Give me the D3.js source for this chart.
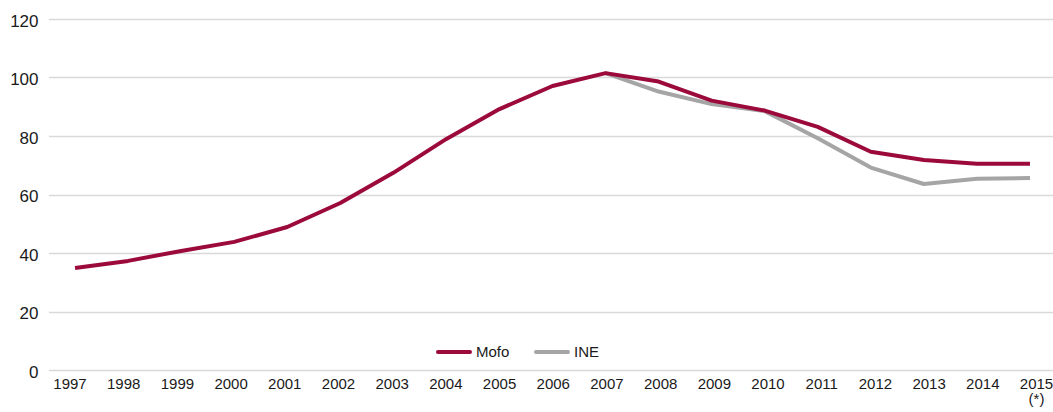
<!DOCTYPE html>
<html>
<head>
<meta charset="utf-8">
<script src="https://cdn.jsdelivr.net/npm/d3@7"></script>
<style>
  html, body { margin: 0; padding: 0; background: #fff; }
  svg { display: block; font-family: "Liberation Sans", Arial, sans-serif; }
</style>
</head>
<body>
<svg id="chart" width="1053" height="412"></svg>
<script>
// Years on the horizontal axis
const years = ["1997","1998","1999","2000","2001","2002","2003","2004","2005","2006",
               "2007","2008","2009","2010","2011","2012","2013","2014","2015"];
// Footnote shown under the last year
const yearNotes = { "2015": "(*)" };

// Mofo series (full period)
const mofoValues = [34.9, 37.3, 40.7, 43.8, 48.9, 57.1, 67.4, 79.0, 89.2, 97.1,
                    101.5, 98.6, 92.1, 88.7, 83.1, 74.6, 71.8, 70.5, 70.5];
// INE series (from 2007 onwards)
const ineValues = [null, null, null, null, null, null, null, null, null, null,
                   101.5, 95.2, 90.9, 88.5, 79.2, 69.2, 63.6, 65.4, 65.6];

const yTicks = [0, 20, 40, 60, 80, 100, 120];

const seriesNames = ["Mofo", "INE"];
const seriesColors = ["#9b0a3a", "#a5a5a5"];

const svg = d3.select("#chart");
const W = 1053;
const gridLeft = 49, gridRight = 1053;

// Category positions for the data points
const x = d3.scaleBand()
  .domain(years)
  .range([48.5, 1056.5]);
// Category positions for the year labels
const xLabel = d3.scalePoint()
  .domain(years)
  .range([69.5, 1036]);

const y = d3.scaleLinear()
  .domain([0, 120])
  .range([370, 19]);

// Gridlines
svg.append("g")
  .selectAll("line")
  .data(yTicks)
  .join("line")
  .attr("x1", gridLeft)
  .attr("x2", gridRight)
  .attr("y1", d => Math.round(y(d)) + 0.5)
  .attr("y2", d => Math.round(y(d)) + 0.5)
  .attr("stroke", "#d9d9d9")
  .attr("stroke-width", 1.3);

// Y axis labels
const yAxis = d3.axisLeft(y).tickValues(yTicks).tickSize(0).tickPadding(0);
const yg = svg.append("g")
  .attr("transform", "translate(38.5,2)")
  .call(yAxis);
yg.select(".domain").remove();
yg.selectAll("text")
  .attr("font-size", 17)
  .attr("fill", "#1a1a1a")
  .attr("font-family", "Liberation Sans, Arial, sans-serif");

// X axis labels
const xAxis = d3.axisBottom(xLabel).tickSize(0).tickPadding(0);
const xg = svg.append("g")
  .attr("transform", `translate(0,${y(0) + 8})`)
  .call(xAxis);
xg.select(".domain").remove();
xg.selectAll("text")
  .attr("font-size", 15)
  .attr("fill", "#1a1a1a")
  .attr("font-family", "Liberation Sans, Arial, sans-serif")
  .attr("dy", "0.71em");
xg.selectAll(".tick")
  .filter(d => yearNotes[d])
  .append("text")
  .attr("y", 15)
  .attr("dy", "0.71em")
  .attr("fill", "#1a1a1a")
  .attr("font-size", 15)
  .attr("font-family", "Liberation Sans, Arial, sans-serif")
  .text(d => yearNotes[d]);

// Lines
const cx = d => x(d) + x.bandwidth() / 2;
const line = d3.line()
  .defined(d => d.v != null)
  .x(d => cx(d.year))
  .y(d => y(d.v));

const seriesData = [mofoValues, ineValues].map(vals => years.map((yr, i) => ({ year: yr, v: vals[i] })));

// Draw INE first so Mofo sits on top
[1, 0].forEach(i => {
  svg.append("path")
    .datum(seriesData[i])
    .attr("fill", "none")
    .attr("stroke", seriesColors[i])
    .attr("stroke-width", 4)
    .attr("stroke-linejoin", "round")
    .attr("d", line);
});

// Legend
const legend = svg.append("g").attr("transform", "translate(437,352)");
const legendOffsets = [0, 98];
seriesNames.forEach((name, i) => {
  const g = legend.append("g").attr("transform", `translate(${legendOffsets[i]},0)`);
  g.append("line")
    .attr("x1", 1).attr("x2", 33)
    .attr("y1", 0).attr("y2", 0)
    .attr("stroke", seriesColors[i])
    .attr("stroke-width", 4)
    .attr("stroke-linecap", "round");
  g.append("text")
    .attr("x", 39)
    .attr("y", 0)
    .attr("dy", "0.35em")
    .attr("font-size", 15)
    .attr("fill", "#1a1a1a")
    .text(name);
});
</script>
</body>
</html>
